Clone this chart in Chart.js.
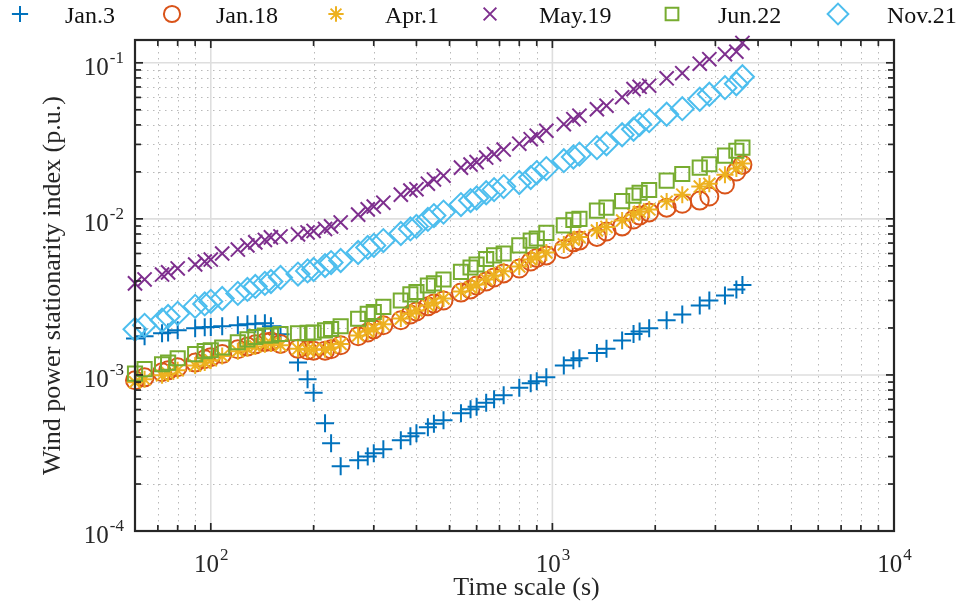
<!DOCTYPE html>
<html>
<head>
<meta charset="utf-8">
<script src="https://cdn.jsdelivr.net/npm/chart.js@4.4.0/dist/chart.umd.min.js"></script>
<style>
  html, body { margin: 0; padding: 0; background: #fff; }
  #wrap { width: 966px; height: 608px; }
</style>
</head>
<body>
<div id="wrap"><canvas id="chart" width="966" height="608"></canvas></div>
<script>
// --- Data (time scale in s, index in p.u.) ---
const timeScales = [60, 64, 72, 75, 80, 90, 96, 100, 108, 120, 128, 135, 144, 150, 160, 180, 192, 200, 216, 225,
  240, 270, 288, 300, 320, 360, 384, 400, 432, 450, 480, 540, 576, 600, 640, 675, 720, 800, 864, 900,
  960, 1080, 1152, 1200, 1350, 1440, 1600, 1728, 1800, 1920, 2160, 2400, 2700, 2880, 3200, 3456, 3600];

const jan3 = [0.00171, 0.00177, 0.00185, 0.00187, 0.00193, 0.00199, 0.00202, 0.00203, 0.00205, 0.00208,
  0.00211, 0.00213, 0.00214, 0.00205, 0.00182, 0.00120, 0.00094, 0.00077, 0.00049, 0.000365,
  0.00026, 0.000284, 0.00030, 0.000315, 0.000334, 0.000381, 0.000405, 0.000423, 0.000462, 0.000486,
  0.000512, 0.000568, 0.000602, 0.000625, 0.000663, 0.000698, 0.00074, 0.000827, 0.000884, 0.00091,
  0.000965, 0.00115, 0.00124, 0.00128, 0.00138, 0.00147, 0.00166, 0.00183, 0.00190, 0.00199,
  0.00224, 0.00244, 0.00279, 0.00300, 0.00323, 0.00353, 0.00377];

const jan18 = [0.000924, 0.000965, 0.00104, 0.00107, 0.00112, 0.00120, 0.00126, 0.00130, 0.00136, 0.00146,
  0.00152, 0.00157, 0.00162, 0.00164, 0.00158, 0.00147, 0.00144, 0.00143, 0.00143, 0.00146,
  0.00155, 0.00177, 0.00187, 0.00196, 0.00208, 0.00224, 0.00244, 0.00255, 0.00275, 0.00287,
  0.00300, 0.00337, 0.00353, 0.00374, 0.00397, 0.00421, 0.00447, 0.00481, 0.00533, 0.00562,
  0.00583, 0.00641, 0.00707, 0.00726, 0.00766, 0.00830, 0.00895, 0.00990, 0.0105, 0.0110,
  0.0118, 0.0125, 0.0131, 0.0139, 0.0166, 0.0201, 0.0222];

const apr1 = [0.000897, 0.000937, 0.000994, 0.00102, 0.00107, 0.00115, 0.00120, 0.00124, 0.00132, 0.00142,
  0.00148, 0.00152, 0.00157, 0.00159, 0.00155, 0.00147, 0.00145, 0.00145, 0.00146, 0.00150,
  0.00158, 0.00179, 0.00190, 0.00199, 0.00211, 0.00230, 0.00248, 0.00259, 0.00279, 0.00291,
  0.00309, 0.00343, 0.00363, 0.00380, 0.00409, 0.00434, 0.00461, 0.00495, 0.00549, 0.00574,
  0.00609, 0.00686, 0.00738, 0.00766, 0.00842, 0.00888, 0.00977, 0.01065, 0.0111, 0.0115,
  0.0129, 0.0143, 0.0161, 0.0168, 0.0192, 0.0210, 0.0226];

const may19 = [0.00386, 0.00409, 0.00440, 0.00454, 0.00481, 0.00510, 0.00533, 0.00549, 0.00600, 0.00636,
  0.00676, 0.00707, 0.00733, 0.00761, 0.00772, 0.00795, 0.00819, 0.00837, 0.00862, 0.00895,
  0.00949, 0.01065, 0.0115, 0.0120, 0.0127, 0.0143, 0.0152, 0.0155, 0.0168, 0.0179,
  0.0189, 0.0213, 0.0223, 0.0231, 0.0247, 0.0260, 0.0278, 0.0303, 0.0324, 0.0341,
  0.0367, 0.0404, 0.0435, 0.0458, 0.0504, 0.0531, 0.0602, 0.0678, 0.0702, 0.0713,
  0.0796, 0.0858, 0.0987, 0.1055, 0.1135, 0.1178, 0.134];

const jun22 = [0.00102, 0.00109, 0.00117, 0.00120, 0.00128, 0.00136, 0.00142, 0.00144, 0.00150, 0.00162,
  0.00169, 0.00175, 0.00179, 0.00179, 0.00183, 0.00185, 0.00186, 0.00187, 0.00193, 0.00197,
  0.00205, 0.00229, 0.00246, 0.00253, 0.00273, 0.00300, 0.00328, 0.00340, 0.00374, 0.00386,
  0.00409, 0.00457, 0.00488, 0.00510, 0.00553, 0.00583, 0.00600, 0.00676, 0.00726, 0.00749,
  0.00813, 0.00908, 0.00986, 0.00999, 0.0113, 0.0118, 0.0130, 0.0141, 0.0147, 0.0153,
  0.0176, 0.0194, 0.0213, 0.0224, 0.0254, 0.0273, 0.0286];

const nov21 = [0.00196, 0.00208, 0.00224, 0.00237, 0.00248, 0.00275, 0.00285, 0.00296, 0.00309, 0.00333,
  0.00353, 0.00369, 0.00386, 0.00397, 0.00421, 0.00443, 0.00464, 0.00474, 0.00502, 0.00525,
  0.00541, 0.00609, 0.00656, 0.00676, 0.00726, 0.00806, 0.00862, 0.00895, 0.00992, 0.0105,
  0.01105, 0.01235, 0.0131, 0.0136, 0.0147, 0.0154, 0.0161, 0.0171, 0.0184, 0.0198,
  0.0210, 0.0236, 0.0249, 0.0260, 0.0286, 0.0303, 0.0346, 0.0375, 0.0404, 0.0426,
  0.0468, 0.0508, 0.0584, 0.0629, 0.0693, 0.0734, 0.0814];

const seriesNames = ["Jan.3", "Jan.18", "Apr.1", "May.19", "Jun.22", "Nov.21"];
const seriesValues = [jan3, jan18, apr1, may19, jun22, nov21];
const seriesColors = ["#0072BD", "#D95319", "#EDB120", "#7E2F8E", "#77AC30", "#4DBEEE"];
const seriesMarkers = ["cross", "circle", "star", "crossRot", "rect", "rectRot"];
const markerRadius = [9, 9, 8.5, 10, 10, 11.5];

// axis ticks (log decades + minor ticks)
const xTickValues = [60, 70, 80, 90, 100, 200, 300, 400, 500, 600, 700, 800, 900,
  1000, 2000, 3000, 4000, 5000, 6000, 7000, 8000, 9000, 10000];
const yTickValues = [1e-4, 2e-4, 3e-4, 4e-4, 5e-4, 6e-4, 7e-4, 8e-4, 9e-4,
  1e-3, 2e-3, 3e-3, 4e-3, 5e-3, 6e-3, 7e-3, 8e-3, 9e-3,
  1e-2, 2e-2, 3e-2, 4e-2, 5e-2, 6e-2, 7e-2, 8e-2, 9e-2, 1e-1];
const xLabelExps = [2, 3, 4];
const yLabelExps = [-1, -2, -3, -4];

const FONT = '"Liberation Serif", "Times New Roman", serif';
const INK = "#262626";
const MARK_W = 2;

const isMajor = v => Math.abs(Math.log10(v) - Math.round(Math.log10(v))) < 1e-9;

// --- Helpers ---
function seg(ctx, x1, y1, x2, y2) {
  ctx.beginPath(); ctx.moveTo(x1, y1); ctx.lineTo(x2, y2); ctx.stroke();
}

function powLabel(ctx, exp, x, y, align) {
  const base = "10", sup = String(exp);
  ctx.font = `25px ${FONT}`;
  const bw = ctx.measureText(base).width;
  ctx.font = `17px ${FONT}`;
  const sw = ctx.measureText(sup).width;
  const x0 = align === "right" ? x - bw - sw : x - (bw + sw) / 2;
  ctx.textAlign = "left";
  ctx.textBaseline = "alphabetic";
  ctx.font = `25px ${FONT}`;
  ctx.fillText(base, x0, y);
  ctx.font = `17px ${FONT}`;
  ctx.fillText(sup, x0 + bw + 1, y - 12);
}

function marker(ctx, style, r, x, y) {
  if (Chart.helpers && Chart.helpers.drawPoint) {
    Chart.helpers.drawPoint(ctx, { pointStyle: style, radius: r, rotation: 0, borderWidth: MARK_W }, x, y);
    return;
  }
  ctx.beginPath();
  ctx.arc(x, y, r, 0, Math.PI * 2);
  ctx.stroke();
}

// --- Frame plugin: grid, box, ticks, labels, legend ---
const frame = {
  id: "frame",
  beforeDatasetsDraw(chart) {
    const { ctx, chartArea: a, scales: { x, y } } = chart;
    ctx.save();
    // minor grid (dotted)
    ctx.strokeStyle = "#b9b9b9";
    ctx.lineWidth = 1;
    ctx.setLineDash([1.5, 4.5]);
    xTickValues.filter(v => !isMajor(v)).forEach(v => {
      const p = Math.round(x.getPixelForValue(v)) + 0.5;
      seg(ctx, p, a.top, p, a.bottom);
    });
    yTickValues.filter(v => !isMajor(v)).forEach(v => {
      const p = Math.round(y.getPixelForValue(v)) + 0.5;
      seg(ctx, a.left, p, a.right, p);
    });
    // major grid (solid)
    ctx.setLineDash([]);
    ctx.strokeStyle = "#dedede";
    ctx.lineWidth = 1.6;
    xTickValues.filter(isMajor).forEach(v => {
      const p = x.getPixelForValue(v);
      seg(ctx, p, a.top, p, a.bottom);
    });
    yTickValues.filter(isMajor).forEach(v => {
      const p = y.getPixelForValue(v);
      seg(ctx, a.left, p, a.right, p);
    });
    ctx.restore();
  },
  afterDraw(chart) {
    const { ctx, chartArea: a, scales: { x, y } } = chart;
    ctx.save();
    ctx.strokeStyle = INK;
    ctx.fillStyle = INK;
    // ticks, pointing inward on all four sides
    ctx.lineWidth = 1.7;
    xTickValues.forEach(v => {
      const p = x.getPixelForValue(v), len = isMajor(v) ? 8 : 6;
      seg(ctx, p, a.bottom, p, a.bottom - len);
      seg(ctx, p, a.top, p, a.top + len);
    });
    yTickValues.forEach(v => {
      const p = y.getPixelForValue(v), len = isMajor(v) ? 8 : 6;
      seg(ctx, a.left, p, a.left + len, p);
      seg(ctx, a.right, p, a.right - len, p);
    });
    // box
    ctx.lineWidth = 2.2;
    ctx.strokeRect(a.left, a.top, a.right - a.left, a.bottom - a.top);

    // tick labels
    ctx.fillStyle = "#262626";
    xLabelExps.forEach(e => powLabel(ctx, e, x.getPixelForValue(Math.pow(10, e)), a.bottom + 41, "center"));
    yLabelExps.forEach(e => powLabel(ctx, e, a.left - 12, y.getPixelForValue(Math.pow(10, e)) + 12, "right"));

    // axis titles
    ctx.font = `26px ${FONT}`;
    ctx.textAlign = "center";
    ctx.textBaseline = "alphabetic";
    ctx.fillText("Time scale (s)", (a.left + a.right) / 2 + 12, a.bottom + 64);
    ctx.save();
    ctx.translate(53, (a.top + a.bottom) / 2);
    ctx.rotate(-Math.PI / 2);
    ctx.textBaseline = "middle";
    ctx.fillText("Wind power stationarity index (p.u.)", 0, 0);
    ctx.restore();

    // legend across the top
    const markX = [20, 172, 336, 490, 672, 838];
    const textX = [65, 216, 385, 539, 718, 887];
    seriesNames.forEach((name, i) => {
      ctx.strokeStyle = seriesColors[i];
      ctx.fillStyle = "rgba(0,0,0,0)";
      ctx.lineWidth = MARK_W;
      marker(ctx, seriesMarkers[i], markerRadius[i] * 0.9, markX[i], 14);
      ctx.fillStyle = "#111";
      ctx.font = `24px ${FONT}`;
      ctx.textAlign = "left";
      ctx.textBaseline = "alphabetic";
      ctx.fillText(name, textX[i], 23);
    });
    ctx.restore();
  }
};

// --- Chart ---
const datasets = seriesNames.map((name, i) => ({
  label: name,
  data: timeScales.map((t, k) => ({ x: t, y: seriesValues[i][k] })),
  showLine: false,
  pointStyle: seriesMarkers[i],
  pointRadius: markerRadius[i],
  pointBorderWidth: MARK_W,
  borderColor: seriesColors[i],
  backgroundColor: "rgba(0,0,0,0)",
  pointBackgroundColor: "rgba(0,0,0,0)",
  clip: false,
  order: seriesNames.length - i
}));

new Chart(document.getElementById("chart"), {
  type: "scatter",
  data: { datasets },
  options: {
    responsive: false,
    animation: false,
    devicePixelRatio: 1,
    events: [],
    layout: { padding: { left: 135, right: 72, top: 40, bottom: 77 } },
    plugins: { legend: { display: false }, tooltip: { enabled: false } },
    scales: {
      x: { type: "logarithmic", min: 60, max: 10000, display: false },
      y: { type: "logarithmic", min: 1e-4, max: 0.14, display: false }
    }
  },
  plugins: [frame]
});
</script>
</body>
</html>
